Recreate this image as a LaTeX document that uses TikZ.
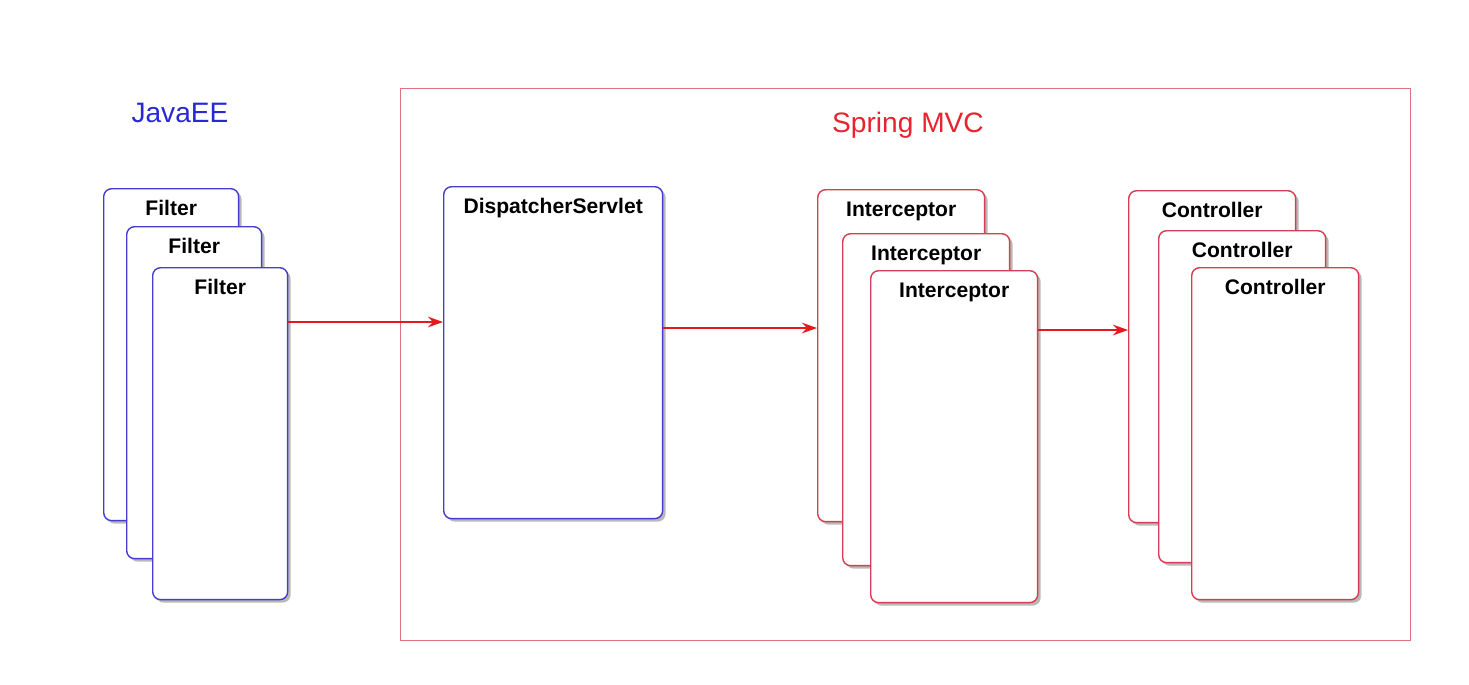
\documentclass[tikz,border=0pt]{standalone}
\usepackage{fontspec}
\setmainfont{Liberation Sans}
\usepackage{xcolor}
\usepackage{tikz}
\usetikzlibrary{arrows.meta,positioning,shadows}
\definecolor{jeeblue}{RGB}{70,60,210}
\definecolor{jeetitle}{RGB}{40,40,215}
\definecolor{mvcred}{RGB}{215,60,80}
\definecolor{mvctitle}{RGB}{232,35,45}
\definecolor{framered}{RGB}{222,115,125}
\definecolor{flowred}{RGB}{228,25,30}

\begin{document}
\begin{tikzpicture}[
    x=0.02cm, y=-0.02cm,
    card/.style={rectangle, rounded corners=4.5pt, fill=white, line width=0.8pt,
      minimum width=2.7cm, minimum height=6.64cm, anchor=north west,
      drop shadow={shadow xshift=1.7pt, shadow yshift=-1.7pt, opacity=0.55},
      label={[anchor=base, yshift=-15.9pt, font=\fontsize{12}{14}\selectfont\bfseries]north:#1}},
    javacard/.style={card=#1, draw=jeeblue},
    springcard/.style={card=#1, draw=mvcred, minimum width=3.34cm},
    title/.style={font=\fontsize{16}{19}\selectfont},
    arrow/.style={-{Stealth[length=8.5pt,width=6pt]}, draw=flowred, line width=1.3pt}
  ]
    \useasboundingbox (0,0) rectangle (1469,684);
    \node[title, text=jeetitle] (javaee) at (180,113) {JavaEE};
    \node[draw=framered, line width=0.6pt, minimum width=20.2cm, minimum height=11.04cm, anchor=north west] (mvc) at (400,88) {};
    \node[title, text=mvctitle] (mvctitle) at (908,125) {Spring MVC};
    \node[javacard=Filter] (f1) at (103,188) {};
    \node[javacard=Filter] (f2) at (126,226) {};
    \node[javacard=Filter] (f3) at (152,267) {};
    \node[javacard=DispatcherServlet, minimum width=4.38cm] (ds) at (443,186) {};
    \node[springcard=Interceptor] (i1) at (817,189) {};
    \node[springcard=Interceptor] (i2) at (842,233) {};
    \node[springcard=Interceptor] (i3) at (870,270) {};
    \node[springcard=Controller] (c1) at (1128,190) {};
    \node[springcard=Controller] (c2) at (1158,230) {};
    \node[springcard=Controller] (c3) at (1191,267) {};
    \coordinate (y1) at (0,322);
    \coordinate (y2) at (0,328);
    \coordinate (y3) at (0,330);
    \draw[arrow] (f3.east |- y1) -- (ds.west |- y1);
    \draw[arrow] (ds.east |- y2) -- (i1.west |- y2);
    \draw[arrow] (i3.east |- y3) -- (c1.west |- y3);
  \end{tikzpicture}
\end{document}
